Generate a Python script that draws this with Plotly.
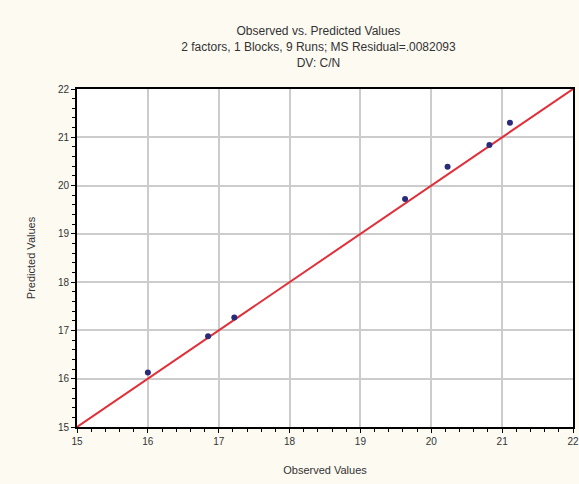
import plotly.graph_objects as go

observed = [16.0, 16.85, 17.22, 19.63, 20.23, 20.82, 21.11]
predicted = [16.13, 16.88, 17.27, 19.72, 20.39, 20.84, 21.30]
line_x = [15, 22]
line_y = [15, 22]
tick_vals = [15, 16, 17, 18, 19, 20, 21, 22]

fig = go.Figure()
fig.add_trace(go.Scatter(x=line_x, y=line_y, mode="lines",
                         line=dict(color="#e0303a", width=2), showlegend=False, cliponaxis=False))
fig.add_trace(go.Scatter(x=observed, y=predicted, mode="markers",
                         marker=dict(color="#2a2a7a", size=6), showlegend=False))

axis_common = dict(
    range=[15, 22], tickvals=tick_vals, ticktext=[str(v) for v in tick_vals],
    showgrid=True, gridcolor="#cccccc", gridwidth=2,
    showline=True, linecolor="black", linewidth=2, mirror=True,
    ticks="outside", ticklen=4, tickcolor="black", tickwidth=1,
    minor=dict(dtick=0.2, ticks="outside", ticklen=3, tickcolor="black", showgrid=False),
    tickfont=dict(size=10, color="#333333", family="Arial"),
    zeroline=False, automargin=False,
)
fig.update_xaxes(**axis_common, title=dict(text="Observed Values", font=dict(size=11, color="#333333"), standoff=20))
fig.update_yaxes(**axis_common, title=dict(text="Predicted Values", font=dict(size=11, color="#333333"), standoff=20))

fig.update_layout(
    width=579, height=484,
    margin=dict(l=77, r=6, t=89, b=57),
    paper_bgcolor="#fdfaf2", plot_bgcolor="white",
    font=dict(family="Arial", size=10, color="#333333"),
    title=dict(text="Observed vs. Predicted Values<br>2 factors, 1 Blocks, 9 Runs; MS Residual=.0082093<br>DV: C/N",
               x=0.55, xanchor="center", y=0.927, yanchor="top", font=dict(size=12), automargin=False),
)
fig.write_html("out.html", config={"displayModeBar": False},
               post_script="document.body.style.margin='0';document.body.style.background='#fdfaf2';")
